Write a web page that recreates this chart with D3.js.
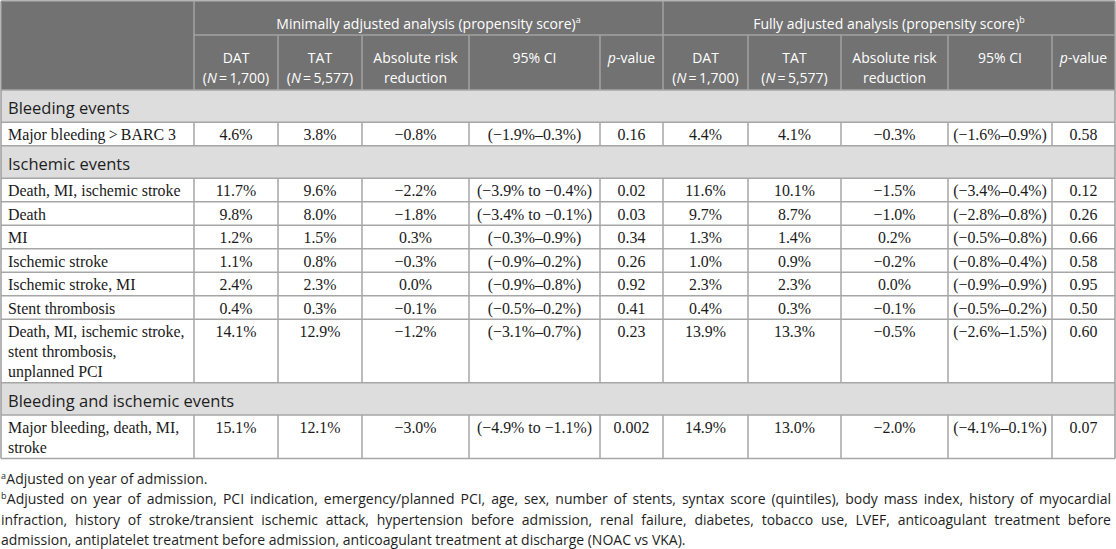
<!DOCTYPE html>
<html><head><meta charset="utf-8">
<script src="https://cdn.jsdelivr.net/npm/d3@7/dist/d3.min.js"></script>
<style>html,body{margin:0;padding:0;background:#fff;overflow:hidden}</style>
</head><body><svg id="c" width="1116" height="549"></svg>
<script>
// ---------- data ----------
const sections = ["Bleeding events", "Ischemic events", "Bleeding and ischemic events"];
const outcomes = [
  "Major bleeding\u2009>\u2009BARC 3",
  "Death, MI, ischemic stroke",
  "Death",
  "MI",
  "Ischemic stroke",
  "Ischemic stroke, MI",
  "Stent thrombosis",
  "Death, MI, ischemic stroke,\nstent thrombosis,\nunplanned PCI",
  "Major bleeding, death, MI,\nstroke"
];
const sectionOf = [0, 1, 1, 1, 1, 1, 1, 1, 2];

const groupTitles = ["Minimally adjusted analysis (propensity score)", "Fully adjusted analysis (propensity score)"];
const groupNotes = ["a", "b"];
const armNames = ["DAT", "TAT"];
const armN = ["1,700", "5,577"];

// minimally adjusted
const datMin = [4.6, 11.7, 9.8, 1.2, 1.1, 2.4, 0.4, 14.1, 15.1];
const tatMin = [3.8, 9.6, 8.0, 1.5, 0.8, 2.3, 0.3, 12.9, 12.1];
const arrMin = [-0.8, -2.2, -1.8, 0.3, -0.3, 0.0, -0.1, -1.2, -3.0];
const ciMin = [[-1.9, 0.3], [-3.9, -0.4], [-3.4, -0.1], [-0.3, 0.9], [-0.9, 0.2], [-0.9, 0.8], [-0.5, 0.2], [-3.1, 0.7], [-4.9, -1.1]];
const pMin = ["0.16", "0.02", "0.03", "0.34", "0.26", "0.92", "0.41", "0.23", "0.002"];

// fully adjusted
const datFull = [4.4, 11.6, 9.7, 1.3, 1.0, 2.3, 0.4, 13.9, 14.9];
const tatFull = [4.1, 10.1, 8.7, 1.4, 0.9, 2.3, 0.3, 13.3, 13.0];
const arrFull = [-0.3, -1.5, -1.0, 0.2, -0.2, 0.0, -0.1, -0.5, -2.0];
const ciFull = [[-1.6, 0.9], [-3.4, 0.4], [-2.8, 0.8], [-0.5, 0.8], [-0.8, 0.4], [-0.9, 0.9], [-0.5, 0.2], [-2.6, 1.5], [-4.1, 0.1]];
const pFull = ["0.58", "0.12", "0.26", "0.66", "0.58", "0.95", "0.50", "0.60", "0.07"];

const footnotes = [
  {sup: "a", lines: ["Adjusted on year of admission."]},
  {sup: "b", lines: [
    "Adjusted on year of admission, PCI indication, emergency/planned PCI, age, sex, number of stents, syntax score (quintiles), body mass index, history of myocardial",
    "infraction, history of stroke/transient ischemic attack, hypertension before admission, renal failure, diabetes, tobacco use, LVEF, anticoagulant treatment before",
    "admission, antiplatelet treatment before admission, anticoagulant treatment at discharge (NOAC vs VKA)."
  ]}
];

// ---------- layout ----------
const SANS = '"Open Sans", "Noto Sans", sans-serif';
const SERIF = '"Liberation Serif", "DejaVu Serif", serif';
const BODY_SIZE = 15.9;
const colW = [193, 84, 84, 107, 131, 63, 85, 93, 107, 104, 63];
const edges = [1];
colW.forEach(w => edges.push(edges[edges.length - 1] + w));
const xEdge = d3.scaleOrdinal().domain(d3.range(edges.length)).range(edges);
const xMid = d3.scaleOrdinal().domain(d3.range(colW.length)).range(colW.map((w, i) => edges[i] + w / 2));
const L = xEdge(0), R = xEdge(11);
const TOP = 1, GROUP_B = 35, HEAD_B = 90;

const svg = d3.select('#c');
const meas = svg.append('text').attr('visibility', 'hidden');
const mw = (s, fam, size) => { meas.attr('font-family', fam).attr('font-size', size).text(s); return meas.node().getComputedTextLength(); };

const rows = [];
sections.forEach((s, si) => {
  rows.push({type: 'sec', label: s, h: 32.33});
  outcomes.forEach((o, i) => {
    if (sectionOf[i] === si) { const lines = o.split('\n'); rows.push({type: 'data', i, lines, h: 3.5 + 20 * lines.length}); }
  });
});
let yy = HEAD_B;
rows.forEach(r => { r.y = yy; yy += r.h; });
const BOTTOM = yy;
const yRow = d3.scaleOrdinal().domain(d3.range(rows.length)).range(rows.map(r => r.y));

const f1 = d3.format('.1f');
const pct = v => f1(v) + '%';
const ci = ([lo, hi]) => hi < 0 ? `(${f1(lo)}% to ${f1(hi)}%)` : `(${f1(lo)}%\u2013${f1(hi)}%)`;
const cellValues = i => [
  pct(datMin[i]), pct(tatMin[i]), pct(arrMin[i]), ci(ciMin[i]), pMin[i],
  pct(datFull[i]), pct(tatFull[i]), pct(arrFull[i]), ci(ciFull[i]), pFull[i]
];

// ---------- backgrounds ----------
svg.append('rect').attr('x', L).attr('y', TOP).attr('width', R - L).attr('height', HEAD_B - TOP).attr('fill', '#727272');
svg.selectAll('rect.sec').data(rows.map((r, k) => ({...r, k})).filter(r => r.type === 'sec')).join('rect')
  .attr('class', 'sec').attr('x', L).attr('y', d => yRow(d.k)).attr('width', R - L).attr('height', d => d.h).attr('fill', '#dddddd');

// ---------- lines ----------
const BODY_LINE = '#a6a6a6', HEAD_LINE = '#a3a3a3';
const gl = svg.append('g').attr('stroke-width', 1.5);
const hl = (x1, x2, y, c) => gl.append('line').attr('x1', x1).attr('x2', x2).attr('y1', y).attr('y2', y).attr('stroke', c);
const vl = (x, y1, y2, c) => gl.append('line').attr('x1', x).attr('x2', x).attr('y1', y1).attr('y2', y2).attr('stroke', c);
hl(L, R, TOP, '#9c9c9c');
hl(xEdge(1), R, GROUP_B, HEAD_LINE);
[1, 6].forEach(c => vl(xEdge(c), TOP, HEAD_B, HEAD_LINE));
[2, 3, 4, 5, 7, 8, 9, 10].forEach(c => vl(xEdge(c), GROUP_B, HEAD_B, HEAD_LINE));
rows.forEach((r, k) => {
  hl(L, R, yRow(k), BODY_LINE);
  if (r.type === 'data') d3.range(1, 11).forEach(c => vl(xEdge(c), yRow(k), yRow(k) + r.h, BODY_LINE));
});
hl(L, R, BOTTOM, BODY_LINE);
vl(L, TOP, BOTTOM, '#9c9c9c');
vl(R, TOP, BOTTOM, '#9c9c9c');

// ---------- header text ----------
const head = svg.append('g').attr('font-family', SANS).attr('font-size', 14).attr('fill', '#ffffff').attr('text-anchor', 'middle');
groupTitles.forEach((g, gi) => {
  const t = head.append('text').attr('x', (xEdge(1 + gi * 5) + xEdge(6 + gi * 5)) / 2).attr('y', 28.5);
  t.append('tspan').text(g);
  t.append('tspan').attr('font-size', 9).attr('dy', -5.5).text(groupNotes[gi]);
});
const colHeads = [
  () => [[[armNames[0], 0]], [['(', 0], ['N', 1], ['\u2009=\u2009' + armN[0] + ')', 0]]],
  () => [[[armNames[1], 0]], [['(', 0], ['N', 1], ['\u2009=\u2009' + armN[1] + ')', 0]]],
  () => [[['Absolute risk', 0]], [['reduction', 0]]],
  () => [[['95% CI', 0]]],
  () => [[['p', 1], ['-value', 0]]]
];
[0, 1].forEach(gi => colHeads.forEach((fn, j) => {
  const c = 1 + gi * 5 + j;
  fn().forEach((line, li) => {
    const t = head.append('text').attr('x', xMid(c)).attr('y', 63 + 20 * li);
    line.forEach(([s, it]) => t.append('tspan').attr('font-style', it ? 'italic' : 'normal').text(s));
  });
}));

// ---------- body text ----------
const body = svg.append('g');
rows.forEach((r, k) => {
  const y0 = yRow(k);
  if (r.type === 'sec') {
    body.append('text').attr('x', 8).attr('y', y0 + 24).attr('font-family', SANS).attr('font-size', 16.5).attr('fill', '#1e1e1e').text(r.label);
  } else {
    const g = body.append('g').attr('font-family', SERIF).attr('font-size', BODY_SIZE).attr('fill', '#1a1a1a');
    r.lines.forEach((ln, li) => g.append('text').attr('x', 8).attr('y', y0 + 18 + 20 * li).text(ln));
    cellValues(r.i).forEach((v, j) => g.append('text').attr('x', xMid(j + 1)).attr('y', y0 + 18).attr('text-anchor', 'middle').text(v));
  }
});

// ---------- footnotes ----------
const FN_SIZE = 14, FN_RIGHT = 1111;
const fn = svg.append('g').attr('font-family', SANS).attr('font-size', FN_SIZE).attr('fill', '#1e1e1e');
let base = BOTTOM + 25.5;
footnotes.forEach(note => {
  note.lines.forEach((line, li) => {
    let x0 = 1;
    if (li === 0) {
      fn.append('text').attr('x', 1).attr('y', base - 5).attr('font-size', 9).text(note.sup);
      x0 = 1 + mw(note.sup, SANS, 9) + 0.3;
    }
    const last = li === note.lines.length - 1;
    if (last) {
      fn.append('text').attr('x', x0).attr('y', base).text(line);
    } else {
      const words = line.split(' ');
      const ws = words.map(w => mw(w, SANS, FN_SIZE));
      const gap = (FN_RIGHT - x0 - d3.sum(ws)) / (words.length - 1);
      let x = x0;
      const t = fn.append('text').attr('y', base);
      words.forEach((w, wi) => { t.append('tspan').attr('x', x).text(w); x += ws[wi] + gap; });
    }
    base += 20.5;
  });
});
meas.remove();
</script></body></html>
